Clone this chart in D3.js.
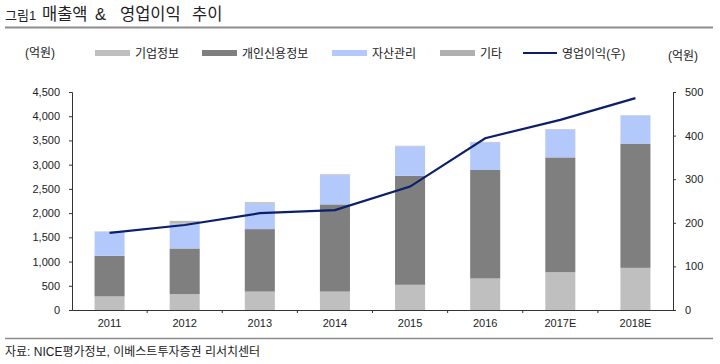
<!DOCTYPE html>
<html>
<head>
<meta charset="utf-8">
<script src="https://cdn.jsdelivr.net/npm/d3@7"></script>
<style>
  body { margin: 0; background: #fff; }
  text { font-family: "Liberation Sans", Arial, "Noto Sans CJK KR", sans-serif; }
</style>
</head>
<body>
<svg id="mainSVG" width="720" height="364"></svg>
<script>
// chart data (억원)
var years = ['2011', '2012', '2013', '2014', '2015', '2016', '2017E', '2018E'];
var corpInfo = [280, 330, 380, 380, 520, 650, 780, 870];        // 기업정보
var personalCredit = [840, 940, 1290, 1800, 2250, 2240, 2370, 2565]; // 개인신용정보
var assetMgmt = [490, 510, 525, 605, 610, 565, 575, 575];        // 자산관리
var others = [10, 60, 30, 15, 10, 15, 10, 10];                     // 기타
var opProfit = [177, 195, 222, 229, 283, 394, 436, 486];          // 영업이익(우)
var leftTicks = [0, 500, 1000, 1500, 2000, 2500, 3000, 3500, 4000, 4500];
var rightTicks = [0, 100, 200, 300, 400, 500];

var seriesNames = ['기업정보', '개인신용정보', '자산관리', '기타'];
var seriesColors = ['#bfbfbf', '#7f7f7f', '#b3c9fb', '#b9b9b9'];
var lineColor = '#0b1f6b';
var kr = '"Noto Sans CJK KR", sans-serif';

var svg = d3.select('#mainSVG');
var f = { left: 72, right: 673, top: 92, bottom: 310 };

var x = d3.scaleBand().domain(years).range([f.left, f.right]).paddingInner(0.6).paddingOuter(0.3);
var xb = d3.scaleBand().domain(years).range([f.left, f.right]);
var yL = d3.scaleLinear().domain([0, 4500]).range([f.bottom, f.top]);
var yR = d3.scaleLinear().domain([0, 500]).range([f.bottom, f.top]);

// title + rules
svg.append('text').attr('x', 5).attr('y', 20).attr('font-size', 13).attr('fill', '#222')
  .attr('font-family', kr).text('그림1');
[['매출액', 42], ['&', 95], ['영업이익', 120], ['추이', 192]].forEach(function(t) {
  svg.append('text').attr('x', t[1]).attr('y', 20).attr('font-size', 16.5).attr('fill', '#222')
    .attr('font-family', kr).text(t[0]);
});
svg.append('line').attr('x1', 5).attr('x2', 713).attr('y1', 27.5).attr('y2', 27.5)
  .attr('stroke', '#8c8c8c').attr('stroke-width', 2);
svg.append('line').attr('x1', 5).attr('x2', 713).attr('y1', 338.5).attr('y2', 338.5)
  .attr('stroke', '#8c8c8c').attr('stroke-width', 1.5);
svg.append('text').attr('x', 5).attr('y', 356).attr('font-size', 12).attr('fill', '#222')
  .attr('font-family', kr)
  .text('자료: NICE평가정보, 이베스트투자증권 리서치센터');

// unit labels
svg.append('text').attr('x', 25).attr('y', 57).attr('font-size', 12).attr('fill', '#222')
  .attr('font-family', kr).text('(억원)');
svg.append('text').attr('x', 668).attr('y', 60).attr('font-size', 12).attr('fill', '#222')
  .attr('font-family', kr).text('(억원)');

// legend
var legendX = [95, 202, 332, 440];
seriesNames.forEach(function(name, i) {
  svg.append('rect').attr('x', legendX[i]).attr('y', 50).attr('width', 35).attr('height', 6)
    .attr('fill', i === 3 ? '#b0b0b0' : seriesColors[i]);
  svg.append('text').attr('x', legendX[i] + 40).attr('y', 58).attr('font-size', 12).attr('fill', '#222')
    .attr('font-family', kr).text(name);
});
svg.append('line').attr('x1', 523).attr('x2', 557).attr('y1', 53).attr('y2', 53)
  .attr('stroke', lineColor).attr('stroke-width', 2);
svg.append('text').attr('x', 562).attr('y', 58).attr('font-size', 12).attr('fill', '#222')
  .attr('font-family', kr).text('영업이익(우)');

// stacked bars
var table = years.map(function(y, i) {
  return { year: y, '기업정보': corpInfo[i], '개인신용정보': personalCredit[i], '자산관리': assetMgmt[i], '기타': others[i] };
});
var stack = d3.stack().keys(seriesNames)(table);

svg.append('g').selectAll('g').data(stack).join('g')
  .attr('fill', function(d, i) { return seriesColors[i]; })
  .selectAll('rect').data(function(d) { return d; }).join('rect')
  .attr('x', function(d) { return x(d.data.year); })
  .attr('width', x.bandwidth())
  .attr('y', function(d) { return yL(d[1]); })
  .attr('height', function(d) { return yL(d[0]) - yL(d[1]); });

// axes
var axisL = svg.append('g').attr('transform', 'translate(' + f.left + ',0)')
  .call(d3.axisLeft(yL).tickValues(leftTicks).tickSize(3).tickFormat(d3.format(',')));
var axisR = svg.append('g').attr('transform', 'translate(' + f.right + ',0)')
  .call(d3.axisRight(yR).tickValues(rightTicks).tickSize(3));
var axisB = svg.append('g').attr('transform', 'translate(0,' + f.bottom + ')')
  .call(d3.axisBottom(xb).tickSize(0).tickPadding(9));

// category separators under the x axis
svg.append('g').selectAll('line').data(years.slice(1)).join('line')
  .attr('x1', function(d) { return xb(d); }).attr('x2', function(d) { return xb(d); })
  .attr('y1', f.bottom).attr('y2', f.bottom + 3).attr('stroke', '#333');

[axisL, axisR, axisB].forEach(function(a) {
  a.select('.domain').attr('stroke', '#333');
  a.selectAll('.tick line').attr('stroke', '#333');
  a.selectAll('text').attr('font-size', 11).attr('fill', '#222')
    .attr('font-family', '"Liberation Sans", Arial, sans-serif');
});
axisL.selectAll('text').attr('x', -12);
axisR.selectAll('text').attr('x', 12);

// operating profit line (right axis)
var line = d3.line()
  .x(function(d, i) { return xb(years[i]) + xb.bandwidth() / 2; })
  .y(function(d) { return yR(d); });
svg.append('path').datum(opProfit).attr('d', line)
  .attr('fill', 'none').attr('stroke', lineColor).attr('stroke-width', 2.2);
</script>
</body>
</html>
